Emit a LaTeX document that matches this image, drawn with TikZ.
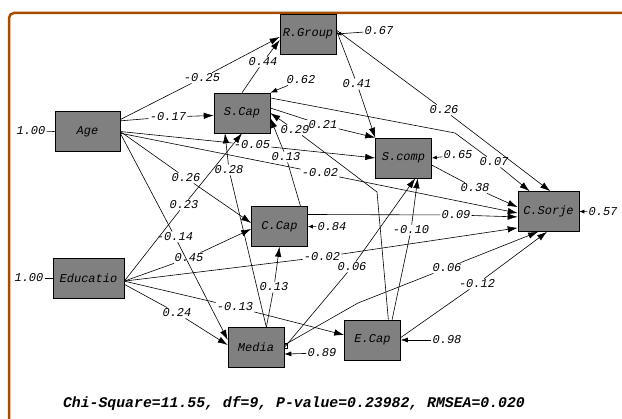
\documentclass[tikz,border=0pt]{standalone}
\usepackage{fontspec}
\newfontfamily\lisrel{Liberation Mono}
\usetikzlibrary{arrows.meta}
\definecolor{framebrown}{RGB}{166,76,0}
\newcommand{\coeffont}{\lisrel\itshape\fontsize{12}{13}\selectfont}

\begin{document}
\begin{tikzpicture}[x=1pt, y=-1pt, line width=0.6pt,
			var/.style={draw, rectangle, fill=gray, minimum width=56pt, minimum height=40pt, inner sep=2pt, font=\coeffont},
			coef/.style={inner sep=1pt, font=\coeffont},
			effect/.style={-{Latex[length=10pt, width=6.5pt]}},
			errshort/.style={-{Latex[length=5pt, width=4pt]}},
			errlong/.style={-{Latex[length=7pt, width=5pt]}}]
			\useasboundingbox (0,0) rectangle (622,419);
			\draw[framebrown, line width=2.5pt, rounded corners=5pt] (9,450) -- (9,13) -- (650,13);
			
			\node[var](RG) at (308,34) {R.Group};
			\node[var](SCap) at (242,113) {S.Cap};
			\node[var, minimum width=65pt](Age) at (87.5,131.5) {Age};
			\node[var](SComp) at (403.5,158) {S.comp};
			\node[var, minimum width=61pt](CSorje) at (548.5,211.5) {C.Sorje};
			\node[var](CCap) at (279.5,226.5) {C.Cap};
			\node[var, minimum width=71pt](Edu) at (88.5,278) {Educatio};
			\node[var](Media) at (256,347.5) {Media};
			\node[var](ECap) at (372.5,340) {E.Cap};
			
			\node[coef](l25) at (202,78) {-0.25};
			\node[coef](l44) at (263,62) {0.44};
			\node[coef](l17) at (168,117) {-0.17};
			\node[coef](l41) at (357,84) {0.41};
			\node[coef](l26a) at (444,110) {0.26};
			\node[coef](l21) at (323,125) {0.21};
			\node[coef](l07) at (494,162) {0.07};
			\node[coef](l29) at (295,130) {0.29};
			\node[coef](l13a) at (286,157) {0.13};
			\node[coef](l05) at (252,145) {-0.05};
			\node[coef](l02a) at (320,173) {-0.02};
			\node[coef](l38) at (475,188) {0.38};
			\node[coef](l28) at (229,170) {0.28};
			\node[coef](l26b) at (186,178) {0.26};
			\node[coef](l23) at (184,205) {0.23};
			\node[coef](l14) at (175,237) {-0.14};
			\node[coef](l45) at (189,258) {0.45};
			\node[coef](l09) at (456,215) {0.09};
			\node[coef](l10) at (411,230) {-0.10};
			\node[coef](l02b) at (322,257) {-0.02};
			\node[coef](l06a) at (352,267) {0.06};
			\node[coef](l06b) at (447,268) {0.06};
			\node[coef](l12) at (477,284) {-0.12};
			\node[coef](l13b) at (274,287) {0.13};
			\node[coef](l24) at (177,313) {0.24};
			\node[coef](l13c) at (235,307) {-0.13};
			
			\coordinate (k07) at (455,133);
			\coordinate (k29) at (377,192);
			\coordinate (k06) at (358,303);
			
			\draw[effect] (Age.20) -- (l25) -- (RG.186);
			\draw[effect] (SCap.north) -- (l44) -- (RG.192);
			\draw[effect] (Age.18) -- (l17) -- (SCap.185);
			\draw[effect] (RG.8) -- (l41) -- (SComp.north west);
			\draw[effect] (RG.8) -- (l26a) -- (CSorje.85);
			\draw[effect] (SCap.10) -- (l21) -- (SComp.north west);
			\draw[effect] (SCap.28) -- (k07) -- (l07) -- (CSorje.133);
			\draw[effect] (ECap.52) -- (k29) -- (l29) -- (SCap.0);
			\draw[effect] (CCap.44) -- (l13a) -- (SCap.-10);
			\draw[effect] (Age.east) -- (l05) -- (SComp.west);
			\draw[effect] (Age.-3) -- (l02a) -- (CSorje.183);
			\draw[effect] (SComp.-14) -- (l38) -- (CSorje.172);
			\draw[effect] (Media.63) -- (l28) -- (SCap.230);
			\draw[effect] (Age.east) -- (l26b) -- (CCap.173);
			\draw[effect] (Edu.-5) -- (l23) -- (SCap.south);
			\draw[effect] (Age.-3) -- (l14) -- (Media.165);
			\draw[effect] (Edu.-5) -- (l45) -- (CCap.185);
			\draw[effect] (CCap.23) -- (l09) -- (CSorje.190);
			\draw[effect] (ECap.46) -- (l10) -- (SComp.-55);
			\draw[effect] (Edu.-5) -- (l02b) -- (CSorje.208);
			\draw[effect] (Media.east) -- (l06a) -- (SComp.-60);
			\draw[effect] (Media.5) -- (k06) -- (l06b) -- (CSorje.243);
			\draw[effect] (ECap.5) -- (l12) -- (CSorje.266);
			\draw[effect] (Media.63) -- (l13b) -- (CCap.south);
			\draw[effect] (Edu.-10) -- (l24) -- (Media.175);
			\draw[effect] (Edu.-5) -- (l13c) -- (ECap.170);
			
			\node[coef](e67) at (379,31) {0.67};
			\node[coef](e62) at (301,80) {0.62};
			\node[coef](e65) at (458,155) {0.65};
			\node[coef](e84) at (332,227) {0.84};
			\node[coef](e57) at (603,212) {0.57};
			\node[coef](e89) at (322,353) {0.89};
			\node[coef](e98) at (447,340) {0.98};
			\node[coef](e00a) at (31,131) {1.00};
			\node[coef](e00b) at (29,278) {1.00};
			
			\draw[errshort] (e67) -- (RG.east);
			\draw[errlong] (e62) -- (SCap.north east);
			\draw[errshort] (e65) -- (SComp.east);
			\draw[errshort] (e84) -- (CCap.east);
			\draw[errshort] (e57) -- (CSorje.east);
			\draw[errlong] (e89) -- (Media.-13);
			\draw[errlong] (e98) -- (ECap.east);
			\draw (e00a) -- (Age.west);
			\draw (e00b) -- (Edu.west);
			\draw[line width=0.4pt] (284,343) rectangle (287,348);
			
			\node[font=\lisrel\bfseries\itshape\fontsize{14.8}{16}\selectfont](fit) at (294,404) {Chi-Square=11.55, df=9, P-value=0.23982, RMSEA=0.020};
			\end{tikzpicture}
\end{document}
